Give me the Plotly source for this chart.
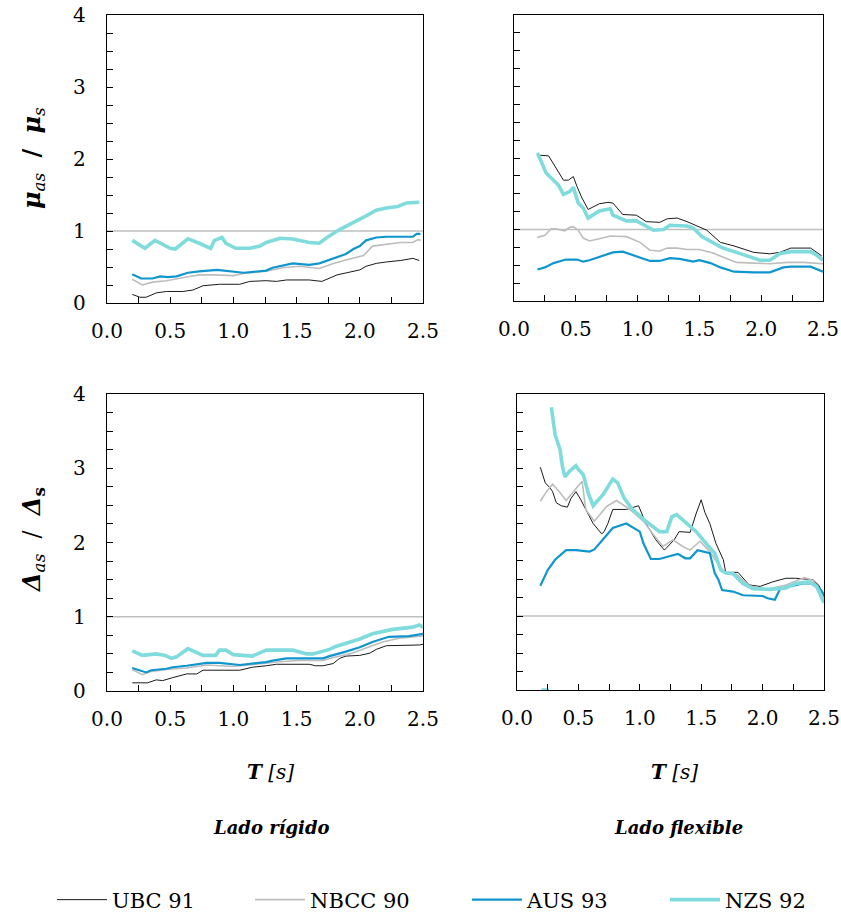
import plotly.graph_objects as go

# ---------------- data ----------------
# Top-left: mu ratio, stiff side
mu_rig_ubc_t = [0.20, 0.26, 0.31, 0.39, 0.47, 0.60, 0.68, 0.76, 0.89, 1.05, 1.13, 1.26, 1.34, 1.42, 1.60, 1.70, 1.82, 1.89, 2.00, 2.05, 2.13, 2.21, 2.32, 2.42, 2.47]
mu_rig_ubc_v = [0.12, 0.08, 0.08, 0.14, 0.16, 0.16, 0.18, 0.24, 0.26, 0.26, 0.30, 0.31, 0.30, 0.32, 0.32, 0.30, 0.39, 0.42, 0.46, 0.51, 0.55, 0.57, 0.59, 0.62, 0.59]
mu_rig_nbcc_t = [0.20, 0.28, 0.36, 0.47, 0.63, 0.73, 0.84, 1.00, 1.08, 1.26, 1.39, 1.52, 1.68, 1.79, 1.92, 2.03, 2.10, 2.21, 2.32, 2.42, 2.46, 2.48]
mu_rig_nbcc_v = [0.33, 0.25, 0.29, 0.31, 0.36, 0.39, 0.39, 0.38, 0.41, 0.44, 0.49, 0.51, 0.48, 0.55, 0.61, 0.66, 0.79, 0.82, 0.84, 0.84, 0.88, 0.87]
mu_rig_aus_t = [0.20, 0.27, 0.36, 0.42, 0.48, 0.55, 0.64, 0.73, 0.87, 1.00, 1.08, 1.26, 1.31, 1.47, 1.60, 1.68, 1.79, 1.89, 1.95, 2.00, 2.05, 2.13, 2.21, 2.42, 2.45, 2.48]
mu_rig_aus_v = [0.40, 0.34, 0.34, 0.37, 0.36, 0.37, 0.42, 0.44, 0.46, 0.44, 0.42, 0.45, 0.49, 0.55, 0.53, 0.55, 0.62, 0.68, 0.75, 0.79, 0.87, 0.91, 0.92, 0.92, 0.96, 0.96]
mu_rig_nzs_t = [0.20, 0.30, 0.38, 0.44, 0.50, 0.54, 0.64, 0.73, 0.82, 0.85, 0.91, 0.94, 1.02, 1.13, 1.21, 1.26, 1.37, 1.47, 1.60, 1.68, 1.74, 1.84, 1.97, 2.05, 2.13, 2.21, 2.30, 2.37, 2.47]
mu_rig_nzs_v = [0.87, 0.76, 0.87, 0.81, 0.76, 0.75, 0.89, 0.83, 0.76, 0.87, 0.91, 0.83, 0.76, 0.76, 0.79, 0.84, 0.90, 0.89, 0.84, 0.83, 0.91, 1.02, 1.13, 1.21, 1.29, 1.32, 1.34, 1.39, 1.40]

# Top-right: mu ratio, flexible side
mu_flx_ubc_t = [0.19, 0.28, 0.34, 0.40, 0.44, 0.48, 0.51, 0.55, 0.60, 0.69, 0.76, 0.80, 0.88, 0.99, 1.07, 1.18, 1.24, 1.32, 1.40, 1.48, 1.56, 1.67, 1.78, 1.94, 2.07, 2.15, 2.24, 2.40, 2.49]
mu_flx_ubc_v = [2.04, 2.03, 1.86, 1.69, 1.69, 1.74, 1.60, 1.44, 1.28, 1.36, 1.38, 1.37, 1.21, 1.20, 1.11, 1.10, 1.15, 1.16, 1.11, 1.05, 0.99, 0.82, 0.77, 0.68, 0.66, 0.68, 0.74, 0.74, 0.63]
mu_flx_nbcc_t = [0.19, 0.25, 0.30, 0.34, 0.41, 0.45, 0.48, 0.52, 0.56, 0.61, 0.69, 0.78, 0.91, 1.02, 1.10, 1.18, 1.24, 1.32, 1.40, 1.50, 1.61, 1.72, 1.80, 1.94, 2.07, 2.21, 2.34, 2.50]
mu_flx_nbcc_v = [0.89, 0.92, 1.01, 1.01, 0.98, 1.03, 1.04, 0.99, 0.88, 0.84, 0.87, 0.91, 0.90, 0.82, 0.71, 0.70, 0.74, 0.74, 0.72, 0.72, 0.67, 0.60, 0.54, 0.53, 0.52, 0.54, 0.54, 0.52]
mu_flx_aus_t = [0.19, 0.25, 0.32, 0.42, 0.51, 0.56, 0.61, 0.69, 0.80, 0.88, 0.99, 1.10, 1.18, 1.26, 1.34, 1.45, 1.50, 1.59, 1.67, 1.78, 1.94, 2.07, 2.18, 2.24, 2.40, 2.50]
mu_flx_aus_v = [0.44, 0.47, 0.53, 0.58, 0.58, 0.55, 0.57, 0.62, 0.68, 0.69, 0.63, 0.56, 0.56, 0.60, 0.59, 0.55, 0.57, 0.53, 0.47, 0.41, 0.40, 0.40, 0.47, 0.48, 0.48, 0.41]
mu_flx_nzs_t = [0.19, 0.26, 0.32, 0.36, 0.40, 0.45, 0.48, 0.52, 0.56, 0.60, 0.69, 0.78, 0.80, 0.91, 0.99, 1.13, 1.21, 1.26, 1.40, 1.45, 1.52, 1.61, 1.69, 1.80, 1.91, 1.99, 2.07, 2.15, 2.24, 2.40, 2.45, 2.50]
mu_flx_nzs_v = [2.07, 1.79, 1.69, 1.62, 1.49, 1.53, 1.59, 1.37, 1.30, 1.16, 1.26, 1.29, 1.20, 1.12, 1.12, 0.99, 1.00, 1.06, 1.05, 1.02, 0.90, 0.82, 0.74, 0.68, 0.61, 0.57, 0.57, 0.66, 0.69, 0.69, 0.64, 0.57]

# Bottom-left: drift ratio, stiff side
dr_rig_ubc_t = [0.20, 0.32, 0.39, 0.44, 0.52, 0.63, 0.71, 0.76, 1.05, 1.15, 1.26, 1.34, 1.60, 1.65, 1.71, 1.79, 1.84, 1.89, 2.00, 2.08, 2.13, 2.21, 2.47, 2.50]
dr_rig_ubc_v = [0.11, 0.11, 0.15, 0.14, 0.18, 0.23, 0.23, 0.28, 0.28, 0.32, 0.34, 0.36, 0.36, 0.34, 0.34, 0.37, 0.44, 0.47, 0.48, 0.51, 0.56, 0.61, 0.62, 0.63]
dr_rig_nbcc_t = [0.20, 0.28, 0.34, 0.47, 0.63, 0.79, 1.00, 1.21, 1.34, 1.52, 1.71, 1.79, 1.92, 2.05, 2.18, 2.31, 2.50]
dr_rig_nbcc_v = [0.29, 0.22, 0.26, 0.29, 0.31, 0.35, 0.33, 0.37, 0.39, 0.41, 0.41, 0.45, 0.50, 0.58, 0.66, 0.71, 0.74]
dr_rig_aus_t = [0.20, 0.31, 0.35, 0.47, 0.52, 0.63, 0.79, 0.89, 1.05, 1.26, 1.31, 1.42, 1.71, 1.76, 1.89, 2.00, 2.10, 2.23, 2.39, 2.50]
dr_rig_aus_v = [0.31, 0.25, 0.28, 0.30, 0.32, 0.34, 0.38, 0.38, 0.35, 0.39, 0.41, 0.44, 0.44, 0.47, 0.53, 0.59, 0.66, 0.73, 0.74, 0.77]
dr_rig_nzs_t = [0.20, 0.28, 0.39, 0.46, 0.51, 0.55, 0.64, 0.68, 0.76, 0.86, 0.89, 0.94, 1.00, 1.15, 1.26, 1.47, 1.58, 1.63, 1.76, 1.81, 1.89, 2.00, 2.10, 2.26, 2.42, 2.47, 2.50]
dr_rig_nzs_v = [0.54, 0.48, 0.50, 0.48, 0.44, 0.46, 0.57, 0.54, 0.48, 0.48, 0.55, 0.55, 0.49, 0.47, 0.55, 0.55, 0.50, 0.50, 0.56, 0.60, 0.64, 0.70, 0.77, 0.83, 0.86, 0.89, 0.86]

# Bottom-right: drift ratio, flexible side
dr_flx_ubc_t = [0.19, 0.23, 0.27, 0.29, 0.32, 0.36, 0.41, 0.44, 0.48, 0.52, 0.56, 0.62, 0.69, 0.71, 0.74, 0.78, 0.89, 0.99, 1.05, 1.13, 1.20, 1.28, 1.32, 1.41, 1.46, 1.50, 1.53, 1.57, 1.62, 1.68, 1.70, 1.80, 1.89, 1.98, 2.08, 2.19, 2.27, 2.41, 2.46, 2.50]
dr_flx_ubc_v = [3.01, 2.80, 2.73, 2.68, 2.53, 2.49, 2.47, 2.59, 2.68, 2.57, 2.44, 2.25, 2.11, 2.14, 2.25, 2.44, 2.44, 2.49, 2.25, 2.03, 1.89, 2.03, 2.14, 2.13, 2.39, 2.57, 2.40, 2.25, 1.98, 1.76, 1.59, 1.59, 1.42, 1.40, 1.46, 1.51, 1.51, 1.49, 1.41, 1.26]
dr_flx_nbcc_t = [0.19, 0.24, 0.29, 0.35, 0.40, 0.46, 0.53, 0.56, 0.63, 0.73, 0.81, 0.92, 1.03, 1.11, 1.19, 1.27, 1.35, 1.41, 1.49, 1.57, 1.65, 1.70, 1.79, 1.89, 2.03, 2.19, 2.34, 2.41, 2.46, 2.50]
dr_flx_nbcc_v = [2.55, 2.68, 2.78, 2.67, 2.56, 2.68, 2.82, 2.44, 2.28, 2.48, 2.56, 2.44, 2.28, 2.10, 1.94, 2.03, 1.94, 1.89, 2.01, 1.87, 1.67, 1.58, 1.56, 1.41, 1.36, 1.42, 1.52, 1.48, 1.35, 1.22]
dr_flx_aus_t = [0.19, 0.25, 0.31, 0.40, 0.48, 0.59, 0.63, 0.70, 0.78, 0.89, 1.00, 1.03, 1.09, 1.16, 1.31, 1.37, 1.41, 1.47, 1.57, 1.61, 1.64, 1.67, 1.76, 1.84, 2.00, 2.04, 2.10, 2.14, 2.19, 2.33, 2.41, 2.46, 2.51]
dr_flx_aus_v = [1.41, 1.62, 1.76, 1.89, 1.89, 1.87, 1.90, 2.03, 2.19, 2.25, 2.14, 1.98, 1.77, 1.77, 1.84, 1.78, 1.78, 1.89, 1.85, 1.58, 1.49, 1.35, 1.33, 1.28, 1.27, 1.24, 1.22, 1.36, 1.39, 1.44, 1.44, 1.38, 1.27]
dr_flx_nzs_t = [0.20, 0.26, None, 0.28, 0.31, 0.35, 0.37, 0.39, 0.43, 0.48, 0.50, 0.54, 0.58, 0.62, 0.70, 0.78, 0.82, 0.87, 0.94, 1.05, 1.16, 1.22, 1.26, 1.30, 1.38, 1.46, 1.54, 1.61, 1.66, 1.70, 1.76, 1.84, 1.92, 2.06, 2.19, 2.27, 2.38, 2.44, 2.50]
dr_flx_nzs_v = [0.00, 0.00, None, 3.82, 3.45, 3.25, 3.02, 2.88, 2.96, 3.03, 2.98, 2.91, 2.66, 2.49, 2.64, 2.85, 2.80, 2.60, 2.44, 2.28, 2.14, 2.14, 2.34, 2.37, 2.25, 2.14, 1.98, 1.85, 1.62, 1.58, 1.57, 1.44, 1.37, 1.36, 1.38, 1.44, 1.46, 1.40, 1.18]

series_names = ["UBC 91", "NBCC 90", "AUS 93", "NZS 92"]
x_tick_vals = [0.0, 0.5, 1.0, 1.5, 2.0, 2.5]
y_tick_vals = [0, 1, 2, 3, 4]
reference_level = 1.0

# ---------------- styling ----------------
styles = [
    dict(color="#1a1a1a", width=1),
    dict(color="#bdbdbd", width=1.6),
    dict(color="#1096cf", width=2.2),
    dict(color="#80dcdc", width=3.6),
]
FONT = "DejaVu Serif"
W, H = 841, 914

panels = [
    ("", [(mu_rig_ubc_t, mu_rig_ubc_v), (mu_rig_nbcc_t, mu_rig_nbcc_v), (mu_rig_aus_t, mu_rig_aus_v), (mu_rig_nzs_t, mu_rig_nzs_v)]),
    ("2", [(mu_flx_ubc_t, mu_flx_ubc_v), (mu_flx_nbcc_t, mu_flx_nbcc_v), (mu_flx_aus_t, mu_flx_aus_v), (mu_flx_nzs_t, mu_flx_nzs_v)]),
    ("3", [(dr_rig_ubc_t, dr_rig_ubc_v), (dr_rig_nbcc_t, dr_rig_nbcc_v), (dr_rig_aus_t, dr_rig_aus_v), (dr_rig_nzs_t, dr_rig_nzs_v)]),
    ("4", [(dr_flx_ubc_t, dr_flx_ubc_v), (dr_flx_nbcc_t, dr_flx_nbcc_v), (dr_flx_aus_t, dr_flx_aus_v), (dr_flx_nzs_t, dr_flx_nzs_v)]),
]

# panel boxes in pixels: (left, right, top, bottom)
boxes = [(107, 423, 15, 303), (514, 823, 15, 301), (107, 423, 394, 691), (517, 824, 394, 690)]
legend_ids = ["legend", "legend2", "legend3", "legend4"]
legend_left = [52, 250, 467, 665]

fig = go.Figure()

for p, (suffix, data) in enumerate(panels):
    xa, ya = "x" + suffix, "y" + suffix
    for i, (t, v) in enumerate(data):
        fig.add_trace(go.Scatter(
            x=t, y=v, mode="lines", name=series_names[i],
            line=dict(**styles[i]), xaxis=xa, yaxis=ya,
            showlegend=(p == 0), legend=legend_ids[i],
            connectgaps=False, cliponaxis=False,
        ))
    # horizontal reference at unity
    fig.add_shape(type="line", xref=xa + " domain", yref=ya, x0=0, x1=1,
                  y0=reference_level, y1=reference_level,
                  line=dict(color="#bfbfbf", width=1.5), layer="below")

axis_common = dict(showline=True, linecolor="black", linewidth=1.3, mirror=True,
                   showgrid=False, zeroline=False, ticks="inside", ticklen=6,
                   tickcolor="black", tickwidth=1.2, automargin=False,
                   tickfont=dict(family=FONT, size=20, color="black"))

layout = {}
for p, (l, r, t, b) in enumerate(boxes):
    suffix = ["", "2", "3", "4"][p]
    layout["xaxis" + suffix] = dict(
        axis_common, domain=[l / W, r / W], range=[0, 2.5],
        tickvals=x_tick_vals, tickformat=".1f",
        minor=dict(dtick=0.25, tick0=0, ticks="inside", ticklen=6, tickcolor="black"),
        anchor="y" + suffix, ticklabelstandoff=10,
    )
    layout["yaxis" + suffix] = dict(
        axis_common, domain=[1 - b / H, 1 - t / H], range=[0, 4],
        tickvals=y_tick_vals, showticklabels=(p % 2 == 0),
        minor=dict(dtick=0.25, tick0=0, ticks="inside", ticklen=6, tickcolor="black"),
        anchor="x" + suffix, ticklabelstandoff=16,
    )

for k, lid in enumerate(legend_ids):
    layout[lid] = dict(
        orientation="h", x=legend_left[k] / W, y=1 - 900 / H,
        xanchor="left", yanchor="middle", itemwidth=50,
        bgcolor="rgba(0,0,0,0)",
        font=dict(family=FONT, size=21, color="black"),
    )

fig.update_layout(**layout)

ann_font = dict(family=FONT, size=20, color="black")
side_font = dict(family=FONT, size=18, color="black")
title_font = dict(family=FONT, size=24, color="black")
annotations = [
    dict(text="<b><i>μ</i></b><sub><i>as</i></sub>  <b>/</b>  <b><i>μ</i></b><sub><i>s</i></sub>",
         x=33 / W, y=1 - 158 / H, textangle=-90, font=title_font),
    dict(text="<b><i>Δ</i></b><sub><i>as</i></sub>  /  <b><i>Δ</i></b><sub><b>s</b></sub>",
         x=33 / W, y=1 - 540 / H, textangle=-90, font=title_font),
    dict(text="<b><i>T</i></b> <i>[s]</i>", x=270 / W, y=1 - 772 / H),
    dict(text="<b><i>T</i></b> <i>[s]</i>", x=674 / W, y=1 - 772 / H),
    dict(text="<b><i>Lado rígido</i></b>", x=271 / W, y=1 - 827 / H, font=side_font),
    dict(text="<b><i>Lado flexible</i></b>", x=678 / W, y=1 - 827 / H, font=side_font),
]
for a in annotations:
    a.setdefault("font", ann_font)
    a.update(xref="paper", yref="paper", showarrow=False,
             xanchor="center", yanchor="middle")

fig.update_layout(
    width=W, height=H, margin=dict(l=0, r=0, t=0, b=0, autoexpand=False),
    paper_bgcolor="white", plot_bgcolor="white",
    font=dict(family=FONT),
    annotations=annotations,
)

fig.write_html("out.html")
